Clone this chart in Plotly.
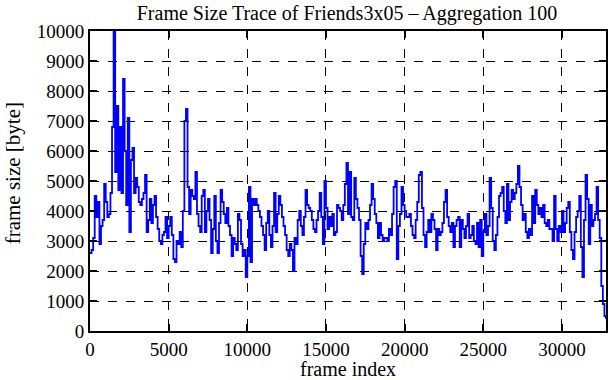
import plotly.graph_objects as go

# aggregated frame sizes (bytes), one value every 100 frames
sizes_0 = [2600, 2700, 3100, 4500, 3800, 4300, 2900, 3500, 3700, 4900,
           4300, 3800, 3900, 4600, 6800, 10000, 5300, 7500, 4700, 6800,
           4600, 8400, 6000, 4200, 7100, 3300, 5700, 6100, 4600, 5100,
           4800, 4300, 4200, 4400, 4600, 5200, 3300, 3700, 4400, 3600,
           4200, 4500, 3800, 3400, 3000, 2900, 3200, 3300, 3800, 3100]
sizes_1 = [3500, 3800, 3200, 2400, 2300, 3000, 2900, 3300, 2800, 4000,
           7000, 7400, 4800, 3900, 4700, 4500, 4400, 5300, 3900, 3500,
           3300, 4500, 4700, 3300, 4000, 4400, 3700, 2600, 3400, 4500,
           3000, 2600, 3600, 4700, 4300, 3900, 3600, 4100, 3500, 3200,
           2500, 3100, 2900, 2700, 3900, 3700, 2900, 2500, 2700, 1800]
sizes_2 = [2500, 4800, 2300, 4400, 4200, 4400, 4200, 4000, 3800, 3500,
           3200, 2700, 3600, 4000, 3200, 2800, 3500, 4600, 3300, 3900,
           4500, 4200, 3800, 3500, 3200, 2700, 2500, 2900, 2700, 2000,
           3100, 2900, 3700, 4000, 3500, 3200, 3800, 4700, 4200, 4100,
           4000, 3700, 3400, 3300, 3700, 4000, 4600, 3800, 2900, 5000]
sizes_3 = [4100, 3400, 3800, 3500, 3900, 3200, 3300, 4200, 4100, 4000,
           3700, 4200, 4900, 5600, 3900, 5300, 3800, 3700, 5100, 4400,
           4100, 3700, 2500, 1900, 2900, 3600, 3400, 3700, 4200, 4900,
           4400, 3900, 3600, 3100, 3600, 3200, 3000, 3100, 3100, 3000,
           3400, 3200, 3900, 4800, 5000, 2400, 3500, 3900, 4800, 4200]
sizes_4 = [4000, 3800, 3800, 3900, 3500, 3200, 3100, 3700, 4300, 5200,
           5300, 4100, 3200, 2800, 3300, 3700, 3300, 3900, 3700, 3400,
           2700, 3400, 3200, 3300, 3600, 4300, 4700, 3800, 3500, 3300,
           3600, 2800, 3500, 3700, 3800, 2800, 3700, 3400, 3100, 3500,
           3900, 3100, 3200, 3500, 3000, 2900, 3600, 2800, 3700, 2500]
sizes_5 = [3300, 3900, 3200, 3500, 5100, 4100, 3000, 2700, 3200, 3800,
           4500, 4600, 4800, 4000, 3600, 4900, 3700, 4300, 4700, 4400,
           4600, 4900, 5500, 4800, 4200, 3700, 3900, 3300, 3100, 3400,
           3200, 4500, 3600, 4700, 4200, 3900, 4100, 3800, 4200, 3600,
           3500, 3700, 3400, 3400, 3000, 4500, 3400, 3000, 3500, 3300]
sizes_6 = [4000, 3300, 3600, 4100, 4300, 3300, 2700, 2400, 3300, 3800,
           4000, 4500, 2800, 1800, 3700, 5200, 4400, 2900, 4200, 3500,
           3700, 3900, 4800, 3700, 3100, 1500, 900, 500, 400]

sizes = sizes_0 + sizes_1 + sizes_2 + sizes_3 + sizes_4 + sizes_5 + sizes_6
frame_step = 100
frames = [i * frame_step for i in range(len(sizes))]

x_ticks = [0, 5000, 10000, 15000, 20000, 25000, 30000]
x_tick_labels = ["0", "5000", "10000", "15000", "20000", "25000", "30000"]
y_ticks = [0, 1000, 2000, 3000, 4000, 5000, 6000, 7000, 8000, 9000, 10000]
y_tick_labels = ["0", "1000", "2000", "3000", "4000", "5000", "6000",
                 "7000", "8000", "9000", "10000"]

font_family = "Liberation Serif, Times New Roman, serif"
W, H = 611, 380

fig = go.Figure()
fig.add_trace(go.Scatter(
    x=frames, y=sizes, mode="lines",
    line=dict(color="#0000ff", width=1.8, shape="hv"),
    showlegend=False,
))

axis_common = dict(
    showline=True, linecolor="black", linewidth=2, mirror="allticks",
    ticks="inside", ticklen=7, tickwidth=1.5, tickcolor="black",
    showgrid=True, gridcolor="black", gridwidth=1, griddash="dash",
    zeroline=False,
    tickfont=dict(family=font_family, size=19, color="black"),
)

fig.update_layout(
    width=W, height=H,
    margin=dict(l=90, r=3, t=31, b=49),
    paper_bgcolor="white", plot_bgcolor="white",
    font=dict(family=font_family, size=19, color="black"),
    title=dict(text="Frame Size Trace of Friends3x05 \u2013 Aggregation 100",
               x=347 / W, xanchor="center", xref="container",
               y=1 - 13 / H, yanchor="middle", yref="container",
               font=dict(family=font_family, size=20, color="black")),
    xaxis=dict(range=[0, 32800], tickvals=x_ticks, ticktext=x_tick_labels,
               **axis_common),
    yaxis=dict(range=[0, 10000], tickvals=y_ticks, ticktext=y_tick_labels,
               **axis_common),
    annotations=[
        dict(text="frame index", xref="paper", yref="paper",
             x=0.5, y=-(369 - 331) / 300, xanchor="center", yanchor="middle",
             showarrow=False, font=dict(family=font_family, size=20)),
        dict(text="frame size [byte]", xref="paper", yref="paper",
             x=-(90 - 13) / 518, y=(331 - 173) / 300, xanchor="center",
             yanchor="middle", textangle=-90,
             showarrow=False, font=dict(family=font_family, size=21)),
    ],
)

fig.write_html("out.html")
